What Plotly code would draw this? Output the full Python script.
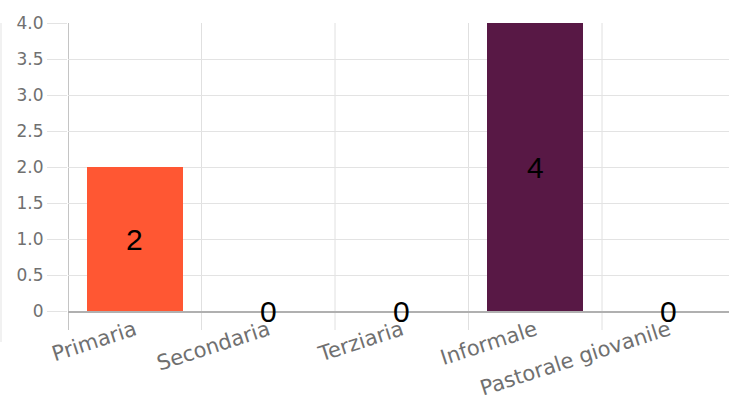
import plotly.graph_objects as go

categories = ["Primaria", "Secondaria", "Terziaria", "Informale", "Pastorale giovanile"]
values = [2, 0, 0, 4, 0]
bar_colors = ["#FF5733", "#C70039", "#900C3F", "#581845", "#FFC300"]
y_tickvals = [0, 0.5, 1.0, 1.5, 2.0, 2.5, 3.0, 3.5, 4.0]
y_ticktext = ["0", "0.5", "1.0", "1.5", "2.0", "2.5", "3.0", "3.5", "4.0"]

W, H = 729, 412
ML, MT, MB = 68, 23, 101
plot_w = W - ML
plot_h = H - MT - MB
cat_px = 133.5  # pixel width of one category slot

fig = go.Figure()
fig.add_trace(go.Bar(
    x=list(range(len(categories))),
    y=values,
    width=0.72,
    marker=dict(color=bar_colors, line=dict(width=0)),
    hoverinfo="skip",
))

# value labels centred on each bar (on the baseline for empty bars)
for i, v in enumerate(values):
    fig.add_annotation(
        x=i, y=v / 2, text=str(v), showarrow=False,
        font=dict(family="Liberation Sans, Arial", size=30, color="#000000"),
        xanchor="center", yanchor="middle",
    )

# thin container border on the far left
fig.add_shape(
    type="line", xref="paper", yref="paper",
    x0=(1 - ML) / plot_w, x1=(1 - ML) / plot_w,
    y0=1, y1=-(342 - (MT + plot_h)) / plot_h,
    line=dict(color="#e3e3e3", width=1),
)

fig.update_layout(
    width=W, height=H,
    margin=dict(l=ML, r=0, t=MT, b=MB),
    paper_bgcolor="white", plot_bgcolor="white",
    showlegend=False,
    bargap=0,
    font=dict(family="DejaVu Sans, Arial", color="#666666"),
)
fig.update_xaxes(
    tickmode="array",
    tickvals=list(range(len(categories))),
    ticktext=categories,
    range=[-0.5, -0.5 + plot_w / cat_px],
    tickangle=-18,
    tickfont=dict(family="DejaVu Sans", size=21, color="#707070"),
    ticklabelstandoff=-3,
    showgrid=False,
    showline=True, linecolor="#b0b0b0", linewidth=1.5,
    ticks="", zeroline=False,
)
# vertical category separators extending below the axis like tick marks
for k in range(len(categories) + 1):
    xv = k - 0.5
    fig.add_shape(
        type="line", xref="x", yref="paper",
        x0=xv, x1=xv, y0=1, y1=-(330 - (MT + plot_h)) / plot_h,
        line=dict(color="#b0b0b0" if k == 0 else "#e0e0e0", width=1.5 if k == 0 else 1),
        layer="below",
    )
fig.update_yaxes(
    range=[0, 4.0],
    tickmode="array",
    tickvals=y_tickvals,
    ticktext=y_ticktext,
    tickfont=dict(family="DejaVu Sans", size=17, color="#707070"),
    showgrid=True, gridcolor="#e3e3e3", gridwidth=1,
    ticks="outside", ticklen=20, tickcolor="#e3e3e3", tickwidth=1,
    showline=False, zeroline=False,
)

fig.write_html("out.html")
